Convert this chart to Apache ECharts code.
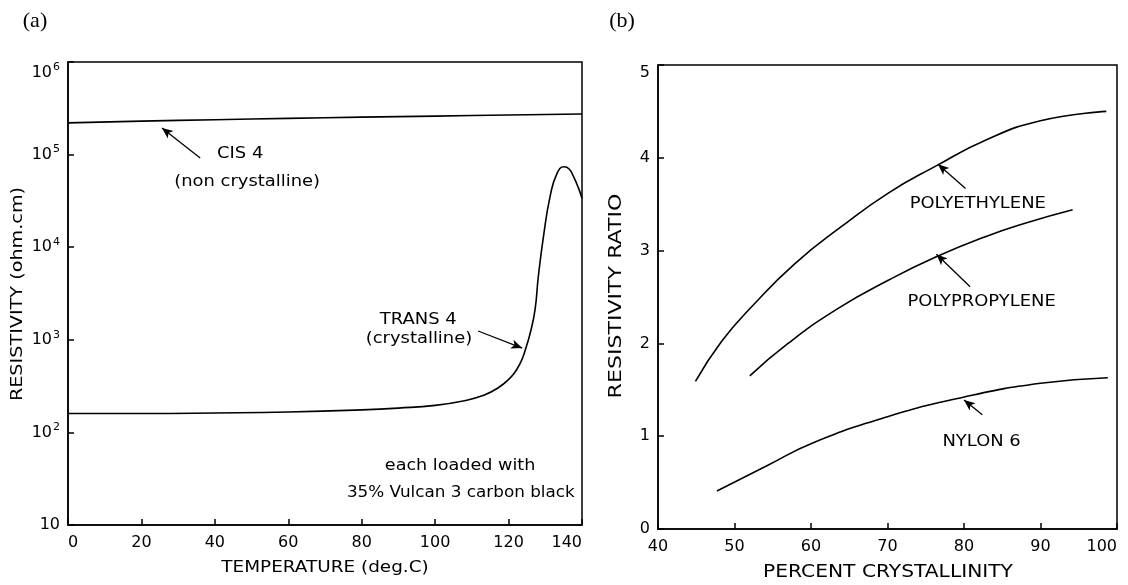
<!DOCTYPE html>
<html>
<head>
<meta charset="utf-8">
<script src="https://cdn.jsdelivr.net/npm/echarts@6/dist/echarts.min.js"></script>
<style>
  html, body { margin: 0; padding: 0; background: #fff; }
  #c { width: 1128px; height: 585px; }
</style>
</head>
<body>
<div id="c"></div>
<script>
// ---- (a) resistivity vs temperature ----
const cisTemp = [0, 20, 40, 60, 80, 100, 120, 140];
const cisRes = [2.2e5, 2.3e5, 2.38e5, 2.46e5, 2.54e5, 2.6e5, 2.68e5, 2.74e5];

const transTemp = [0, 20, 40, 60, 80, 90, 100, 108, 113, 117, 120.4, 122.3, 123.7, 124.8, 125.9, 127.2, 128.1, 129.5, 131.3, 133.2, 135.1, 136.5, 137.7, 139, 140];
const transRes = [160, 160, 162, 166, 175, 183, 196, 220, 250, 300, 386, 484, 621, 836, 1183, 2100, 4800, 13000, 35100, 62800, 74000, 70000, 57700, 44000, 33700];

const tempTicks = [0, 20, 40, 60, 80, 100, 120, 140];
const resTicks = [10, 1e2, 1e3, 1e4, 1e5, 1e6];

// ---- (b) resistivity ratio vs percent crystallinity ----
const peX = [44.9, 48.3, 52.3, 57.9, 64.0, 70.1, 76.3, 82.8, 90.0, 98.6];
const peY = [1.59, 2.02, 2.40, 2.86, 3.26, 3.62, 3.91, 4.19, 4.40, 4.50];

const ppX = [52.0, 57.0, 63.6, 70.1, 76.3, 82.8, 88.2, 94.2];
const ppY = [1.65, 2.00, 2.38, 2.68, 2.93, 3.15, 3.30, 3.44];

const nyX = [47.7, 54.3, 60.3, 70.0, 79.9, 90.0, 98.8];
const nyY = [0.41, 0.685, 0.93, 1.21, 1.42, 1.57, 1.63];

const crystTicks = [40, 50, 60, 70, 80, 90, 100];
const ratioTicks = [0, 1, 2, 3, 4, 5];

const zip = (xs, ys) => xs.map((x, i) => [x, ys[i]]);

const FONT = 'DejaVu Sans';
const INK = '#000';

function axisLine() { return { show: true, onZero: false, lineStyle: { color: INK, width: 1.5 } }; }
function axisTick() { return { show: true, inside: true, length: 6, lineStyle: { color: INK, width: 1.5 } }; }
function label(extra) {
  return Object.assign({ color: INK, fontFamily: FONT, fontSize: 16 }, extra || {});
}
function curve(name, xi, data, extra) {
  return Object.assign({
    name, type: 'line', xAxisIndex: xi, yAxisIndex: xi, data,
    showSymbol: false, smooth: 0.5, silent: true,
    lineStyle: { color: INK, width: 1.6 }
  }, extra || {});
}
function arrow(from, to) {
  return [{ coord: from }, { coord: to }];
}
const arrowStyle = {
  silent: true, symbol: ['none', 'arrow'], symbolSize: [7, 11],
  label: { show: false }, lineStyle: { color: INK, width: 1.3, type: 'solid' }
};

const chart = echarts.init(document.getElementById('c'));

chart.setOption({
  animation: false,
  backgroundColor: '#fff',
  grid: [
    { left: 68, top: 62, width: 514, height: 463, show: true, borderColor: INK, borderWidth: 1.5 },
    { left: 658, top: 65, width: 459, height: 464, show: true, borderColor: INK, borderWidth: 1.5 }
  ],
  xAxis: [
    {
      gridIndex: 0, type: 'value', min: tempTicks[0], max: tempTicks[tempTicks.length - 1], interval: 20,
      axisLine: axisLine(), axisTick: axisTick(), splitLine: { show: false },
      axisLabel: label({ margin: 10, alignMinLabel: 'left', alignMaxLabel: 'right' })
    },
    {
      gridIndex: 1, type: 'value', min: crystTicks[0], max: crystTicks[crystTicks.length - 1], interval: 10,
      axisLine: axisLine(), axisTick: axisTick(), splitLine: { show: false },
      axisLabel: label({ margin: 10, alignMaxLabel: 'right' })
    }
  ],
  yAxis: [
    {
      gridIndex: 0, type: 'log', logBase: 10, min: resTicks[0], max: resTicks[resTicks.length - 1],
      axisLine: axisLine(), axisTick: axisTick(), splitLine: { show: false },
      axisLabel: label({
        margin: 8, verticalAlignMaxLabel: 'top',
        formatter: v => {
          const e = Math.round(Math.log10(v));
          return e === 1 ? '{m|10}' : '{m|10}{s|' + e + '}';
        },
        rich: {
          m: { color: INK, fontFamily: FONT, fontSize: 16 },
          s: { color: INK, fontFamily: FONT, fontSize: 11, padding: [0, 0, 10, 1] }
        }
      })
    },
    {
      gridIndex: 1, type: 'value', min: ratioTicks[0], max: ratioTicks[ratioTicks.length - 1], interval: 1,
      axisLine: axisLine(), axisTick: axisTick(), splitLine: { show: false },
      axisLabel: label({ margin: 8, verticalAlignMaxLabel: 'top' })
    }
  ],
  series: [
    curve('CIS 4', 0, zip(cisTemp, cisRes), {
      markLine: Object.assign({ data: [arrow([36.0, 9.2e4], [25.6, 1.94e5])] }, arrowStyle)
    }),
    curve('TRANS 4', 0, zip(transTemp, transRes), {
      markLine: Object.assign({ data: [arrow([111.7, 1245], [123.7, 815])] }, arrowStyle)
    }),
    curve('POLYETHYLENE', 1, zip(peX, peY), {
      markLine: Object.assign({ data: [arrow([80.2, 3.67], [76.6, 3.93])] }, arrowStyle)
    }),
    curve('POLYPROPYLENE', 1, zip(ppX, ppY), {
      markLine: Object.assign({ data: [arrow([80.8, 2.61], [76.4, 2.96])] }, arrowStyle)
    }),
    curve('NYLON 6', 1, zip(nyX, nyY), {
      markLine: Object.assign({ data: [arrow([82.4, 1.23], [80.0, 1.39])] }, arrowStyle)
    })
  ]
});

// Annotation texts, anchored in data coordinates of each panel
const notes = [
  { g: 0, at: [46.9, 1.01e5], text: 'CIS 4', sx: 1.12 },
  { g: 0, at: [48.8, 5.06e4], text: '(non crystalline)', sx: 1.12 },
  { g: 0, at: [95.4, 1640], text: 'TRANS 4', sx: 1.12 },
  { g: 0, at: [95.6, 1020], text: '(crystalline)', sx: 1.12 },
  { g: 0, at: [106.8, 43.4], text: 'each loaded with', sx: 1.1 },
  { g: 0, at: [107.0, 22.2], text: '35% Vulcan 3 carbon black', sx: 1.05 },
  { g: 1, at: [81.8, 3.50], text: 'POLYETHYLENE', sx: 1.12 },
  { g: 1, at: [82.3, 2.45], text: 'POLYPROPYLENE', sx: 1.12 },
  { g: 1, at: [82.3, 0.94], text: 'NYLON 6', sx: 1.12 }
];

function textEl(x, y, text, opts) {
  opts = opts || {};
  return {
    type: 'text', x, y, rotation: opts.rotation || 0,
    scaleX: opts.scaleX || 1, scaleY: 1, silent: true,
    style: {
      text, fill: INK, align: 'center', verticalAlign: 'middle',
      font: (opts.size || 16) + 'px ' + (opts.family || FONT)
    }
  };
}

const graphics = notes.map(n => {
  const p = chart.convertToPixel({ gridIndex: n.g }, n.at);
  return textEl(p[0], p[1], n.text, { size: 16, scaleX: n.sx });
});

// axis titles and panel tags
graphics.push(textEl(325, 568, 'TEMPERATURE (deg.C)', { size: 16, scaleX: 1.15 }));
graphics.push(textEl(18, 294, 'RESISTIVITY (ohm.cm)', { size: 16, scaleX: 1.2, rotation: Math.PI / 2 }));
graphics.push(textEl(888, 573, 'PERCENT CRYSTALLINITY', { size: 17, scaleX: 1.19 }));
graphics.push(textEl(617, 296, 'RESISTIVITY RATIO', { size: 17, scaleX: 1.3, rotation: Math.PI / 2 }));
graphics.push(textEl(35, 21, '(a)', { size: 22, family: '"Liberation Serif", serif' }));
graphics.push(textEl(622, 21, '(b)', { size: 22, family: '"Liberation Serif", serif' }));

chart.setOption({ graphic: graphics });
</script>
</body>
</html>
